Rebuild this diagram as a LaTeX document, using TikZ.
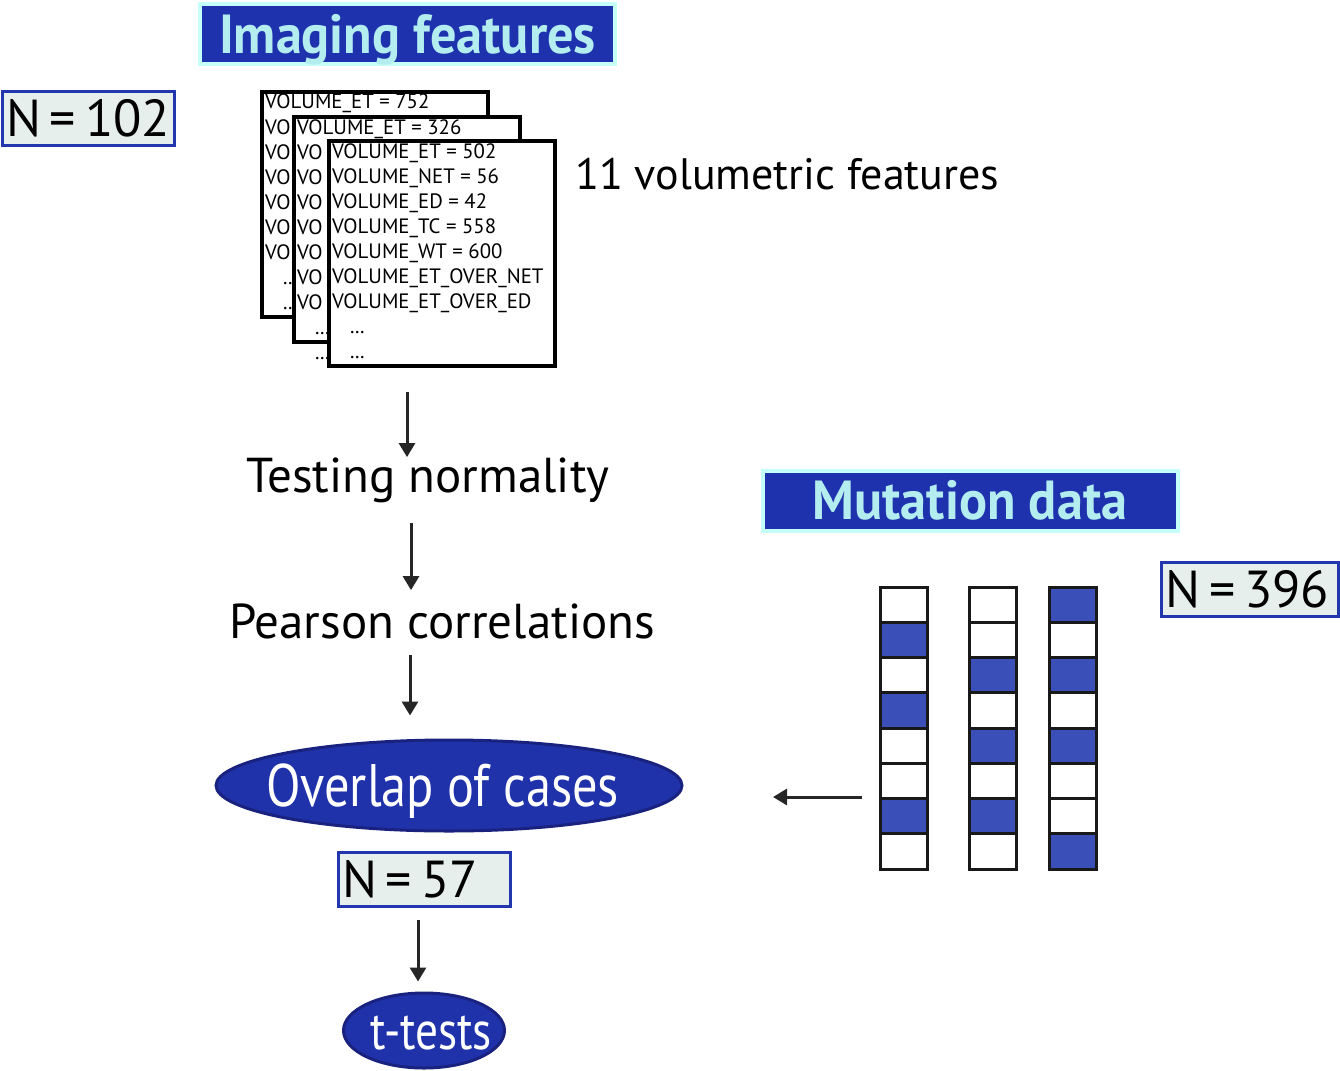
\documentclass[tikz,border=0pt]{standalone}
\usepackage{fontspec}
\setmainfont{PT Sans}
\newfontfamily\headfont[FakeStretch=0.95]{PT Sans}
\newfontfamily\ovalfont[FakeStretch=0.84]{PT Sans}
\usetikzlibrary{arrows.meta,positioning,shapes.geometric,calc}
\definecolor{headblue}{HTML}{1F32AE}
\definecolor{headcyan}{HTML}{B4EDF0}
\definecolor{headrim}{HTML}{C4FFF9}
\definecolor{countrim}{HTML}{2236AE}
\definecolor{countfill}{HTML}{E6EFEC}
\definecolor{ovalfill}{HTML}{2032AA}
\definecolor{ovalrim}{HTML}{19237F}
\definecolor{mutblue}{HTML}{3A50B8}
\tikzset{
  headbox/.style={
    draw=headrim,
    fill=headblue,
    line width=4pt,
    minimum width=415pt,
    minimum height=60pt,
    inner sep=0pt,
    text=headcyan,
    text height=38pt,
    text depth=0pt,
    font=\headfont\bfseries\fontsize{55}{55}\selectfont
  },
  countbox/.style={draw=countrim, fill=countfill, line width=3pt, minimum height=54pt,
    inner xsep=4pt, inner ysep=4pt, align=left, font=\fontsize{52}{52}\selectfont},
  steptxt/.style={font=\fontsize{49}{49}\selectfont, inner sep=0pt, anchor=base},
  oval/.style={ellipse, draw=ovalrim, fill=ovalfill, line width=3pt, inner ysep=0pt, inner xsep=-30pt,
    text=white, text depth=0pt, font=\ovalfont\fontsize{60}{60}\selectfont},
  card/.style={draw=black, line width=4pt, fill=white, minimum width=226pt,
    minimum height=225pt, inner sep=0pt, anchor=north west},
  featline/.style={font=\fontsize{20.8}{20.8}\selectfont, inner sep=0pt, anchor=base west},
  cell/.style={draw=black!90, line width=3pt, minimum width=47pt, minimum height=35.25pt, inner sep=0pt},
  flow/.style={-{Triangle[length=14pt,width=16pt]}, line width=3pt, black!85},
}
\newcommand{\featdots}{\hspace*{18pt}.\kern0.5pt.\kern0.5pt.}
\newcommand{\countN}[1]{\mbox{N\hspace{9pt}=\hspace{9pt}#1}}
% one card of the stack: name, north west corner, lines
\newcommand{\FeatCard}[3]{%
  \node[card] (#1) at (#2) {};
  \foreach \t [count=\i] in {#3} {
    \node[featline] (#1l\i) at ($(#1.north west)+(5,{19+25*(\i-1)})$) {\t};
  }
}
% one column of mutation cells: name, x of centre, fills
\newcommand{\MutColumn}[3]{%
  \foreach \c [count=\i] in {#3} {
    \node[cell, fill=\c] (#1\i) at (#2,{587+35.25*(\i-0.5)}) {};
  }
}

\begin{document}
\begin{tikzpicture}[x=1pt, y=-1pt]
  \useasboundingbox (0,0) rectangle (1340,1070);

  % imaging side
  \node[headbox] (imgT) at (407.5,34.5) {Imaging features};
  \node[countbox, text width=164pt] (nImg) at (88,118.5) {\countN{102}};

  \FeatCard{cardA}{260,90}{VOLUME\_ET = 752,VO,VO,VO,VO,VO,VO,\featdots,\featdots}
  \FeatCard{cardB}{292,115}{VOLUME\_ET = 326,VO,VO,VO,VO,VO,VO,VO,\featdots,\featdots}
  \FeatCard{cardC}{327,139}{VOLUME\_ET = 502,VOLUME\_NET = 56,VOLUME\_ED = 42,VOLUME\_TC = 558,VOLUME\_WT = 600,VOLUME\_ET\_OVER\_NET,VOLUME\_ET\_OVER\_ED,\featdots,\featdots}
  \node[steptxt, anchor=base west, font=\fontsize{44}{44}\selectfont] (nFeat) at (575,189) {11 volumetric features};

  \node[steptxt] (norm) at (428,492) {Testing normality};
  \node[steptxt] (pear) at (442,638) {Pearson correlations};
  \node[oval, minimum width=466pt, minimum height=91pt, text height=42pt] (overlap) at (449,785.5) {Overlap of cases\hspace*{12pt}};
  \node[countbox, text width=164pt] (nCom) at (424,879) {\countN{57}};
  \node[oval, minimum width=161pt, minimum height=75pt, text height=38pt,
    font=\ovalfont\fontsize{54}{54}\selectfont] (ttest) at (424,1030.5) {\hspace*{14pt}t-tests};

  \coordinate (a1) at (407,392);
  \coordinate (a2) at (411,523);
  \coordinate (a3) at (410,655);
  \coordinate (a4) at (418,920);
  \draw[flow] (a1) -- (a1 |- norm.north);
  \draw[flow] (a2) -- ($(a2 |- pear.north)+(0,-13)$);
  \draw[flow] (a3) -- ($(a3 |- overlap.north)+(0,-23)$);
  \draw[flow] (a4) -- ($(a4 |- ttest.north)+(0,-10)$);

  % mutation side
  \node[headbox] (mutT) at (970,500.5) {Mutation data};
  \node[countbox, text width=169pt] (nMut) at (1249.5,589) {\countN{396}};
  \MutColumn{mutA}{903.5}{white,mutblue,white,mutblue,white,white,mutblue,white}
  \MutColumn{mutB}{992.5}{white,white,mutblue,white,mutblue,white,mutblue,white}
  \MutColumn{mutC}{1072.5}{mutblue,white,mutblue,white,mutblue,white,white,mutblue}

  \coordinate (mIn) at ($(mutA7.north west)+(-17,0)$);
  \coordinate (mOut) at (773,797);
  \draw[flow] (mIn) -- (mOut);
\end{tikzpicture}
\end{document}
